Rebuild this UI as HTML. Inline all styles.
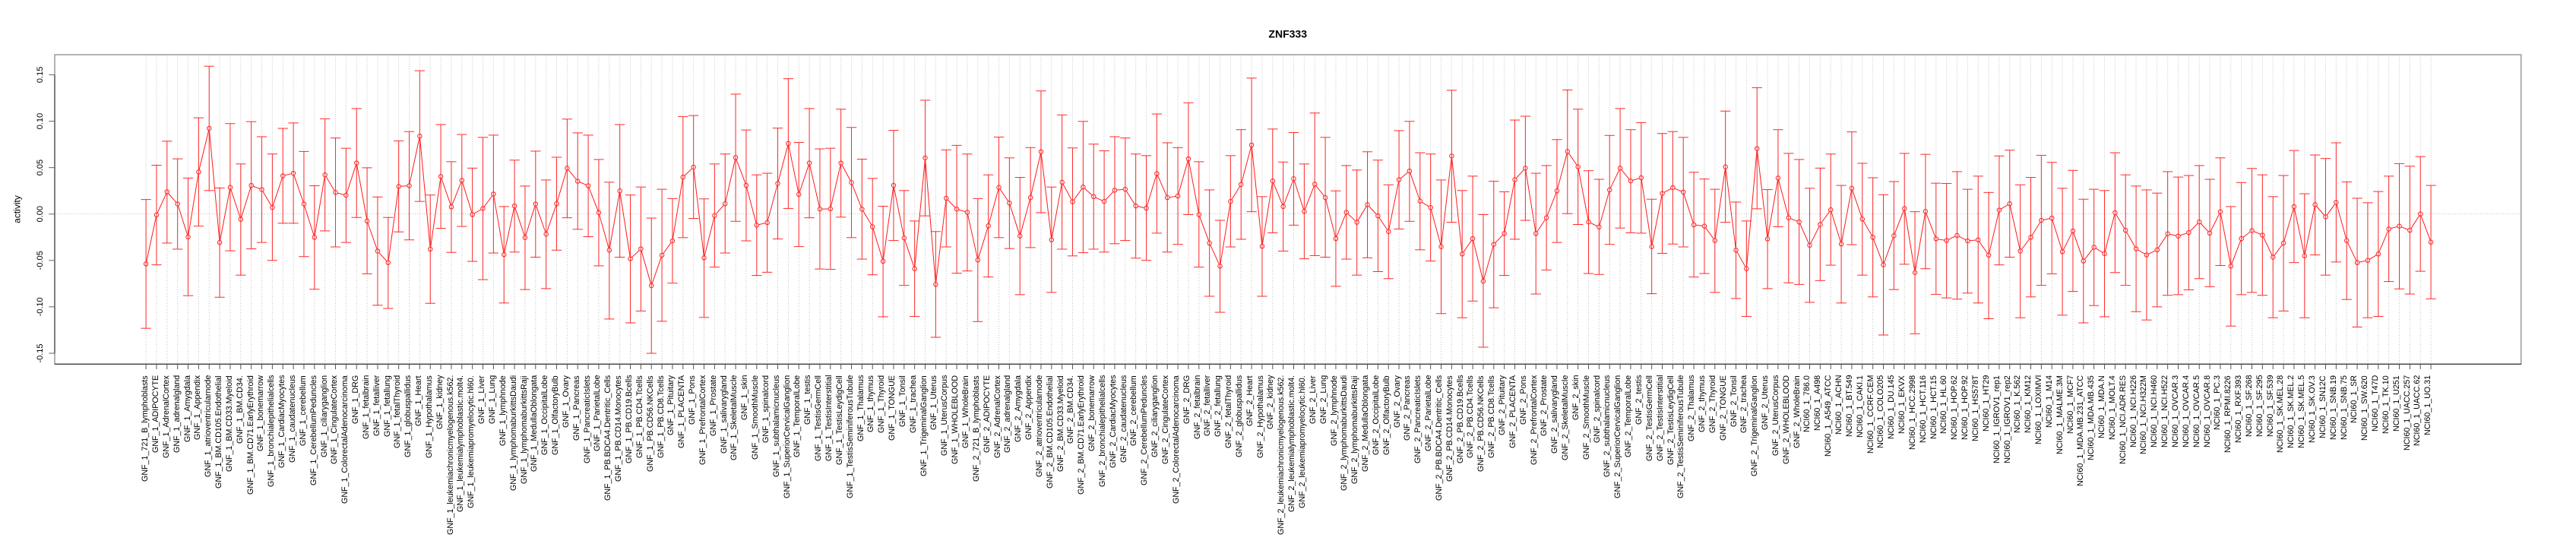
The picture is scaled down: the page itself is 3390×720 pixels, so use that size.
<!DOCTYPE html>
<html><head><meta charset="utf-8">
<style>
html,body{margin:0;padding:0;background:#fff;width:3390px;height:720px;overflow:hidden;position:relative}
svg{position:absolute;left:0;top:0}
#xl{position:absolute;left:185.17px;top:493.5px;display:flex;font-family:"Liberation Sans",sans-serif;font-size:10.7px;color:#000}
#xl div{flex:none;width:13.857px;height:220px;writing-mode:vertical-lr;transform:rotate(180deg);text-align:end;line-height:13.857px;white-space:nowrap}
</style></head><body>
<svg width="3390" height="720" viewBox="0 0 3390 720" font-family="Liberation Sans, sans-serif">
<defs>
<pattern id="hp" x="0" y="72" width="8" height="3" patternUnits="userSpaceOnUse"><rect width="8" height="1" fill="#fff"/></pattern>
<mask id="dm" maskUnits="userSpaceOnUse" x="0" y="0" width="3390" height="720"><rect x="0" y="72" width="3390" height="408" fill="url(#hp)"/></mask>
<marker id="k" markerUnits="userSpaceOnUse" markerWidth="2" markerHeight="20" overflow="visible"><path d="M-.48 0H.48" stroke="#ff2a2a" stroke-width="2.372" fill="none"/></marker>
<marker id="c" markerUnits="userSpaceOnUse" markerWidth="2" markerHeight="20" overflow="visible"><ellipse rx=".231" ry="7.59" fill="#ff2020"/><ellipse rx=".159" ry="5.22" fill="#fff"/></marker>
</defs>
<rect width="3390" height="720" fill="#fff"/>
<line x1="191.6" y1="275.65" x2="3212" y2="275.65" stroke="#c4c4c4" stroke-width="407.3" stroke-dasharray="1 12.857" mask="url(#dm)"/>
<line x1="72" y1="281.5" x2="3318" y2="281.5" stroke="#c4c4c4" stroke-dasharray="1 2"/>
<rect x="72" y="72" width="3245.7" height="407.3" fill="none" stroke="#9a9a9a" stroke-width="1.5"/>
<line x1="72" y1="98.4" x2="72" y2="465" stroke="#555" stroke-width="1.3"/>
<line x1="72" y1="479.3" x2="3318" y2="479.3" stroke="#444" stroke-width="1.3"/>
<line x1="191.6" y1="482.65" x2="3212" y2="482.65" stroke="#555" stroke-width="6.7" stroke-dasharray="1 12.857"/>
<path d="M64.3 98.4H72M64.3 159.5H72M64.3 220.6H72M64.3 281.7H72M64.3 342.8H72M64.3 403.9H72M64.3 465H72" stroke="#666" stroke-width="1"/>
<g font-size="11" text-anchor="middle" fill="#000">
<text transform="translate(56,465) rotate(-90)">-0.15</text>
<text transform="translate(56,403.9) rotate(-90)">-0.10</text>
<text transform="translate(56,342.8) rotate(-90)">-0.05</text>
<text transform="translate(56,281.7) rotate(-90)">0.00</text>
<text transform="translate(56,220.6) rotate(-90)">0.05</text>
<text transform="translate(56,159.5) rotate(-90)">0.10</text>
<text transform="translate(56,98.4) rotate(-90)">0.15</text>
</g>
<text transform="translate(26.5,275.5) rotate(-90)" font-size="12" text-anchor="middle">activity</text>
<text x="1694.7" y="49.3" font-size="14" font-weight="bold" text-anchor="middle">ZNF333</text>
<g transform="translate(192.1,60.2) scale(13.857,0.4217)">
<path fill="none" stroke="#ff1a1a" stroke-width="1" vector-effect="non-scaling-stroke" d="M0 681L1 528 2 456 3 494 4 597 5 394 6 258 7 614 8 442 9 542 10 436 11 449 12 505 13 406 14 398 15 494 16 598 17 403 18 458 19 467 20 366 21 547 22 641 23 677 24 439 25 437 26 282 27 635 28 408 29 503 30 420 31 527 32 508 33 463 34 652 35 500 36 599 37 494 38 588 39 493 40 382 41 423 42 437 43 521 44 638 45 453 46 665 47 634 48 749 49 654 50 609 51 410 52 379 53 662 54 530 55 493 56 349 57 436 58 560 59 552 60 430 61 305 62 464 63 366 64 510 65 509 66 366 67 427 68 510 69 565 70 673 71 436 72 600 73 696 74 350 75 745 76 476 77 510 78 520 79 669 80 562 81 442 82 491 83 594 84 474 85 331 86 606 87 426 88 487 89 441 90 471 91 486 92 451 93 448 94 500 95 507 96 399 97 474 98 469 99 353 100 527 101 616 102 688 103 486 104 433 105 310 106 626 107 422 108 502 109 415 110 517 111 432 112 474 113 602 114 520 115 551 116 496 117 531 118 580 119 418 120 391 121 485 122 505 123 627 124 344 125 650 126 602 127 735 128 620 129 586 130 418 131 382 132 586 133 537 134 453 135 330 136 378 137 550 138 566 139 450 140 382 141 422 142 412 143 627 144 461 145 443 146 457 147 559 148 563 149 608 150 378 151 638 152 696 153 321 154 603 155 413 156 537 157 550 158 623 159 558 160 512 161 619 162 445 163 541 164 598 165 684 166 593 167 508 168 708 169 517 170 603 171 608 172 592 173 609 174 606 175 654 176 513 177 493 178 641 179 598 180 545 181 538 182 643 183 578 184 672 185 629 186 649 187 521 188 576 189 634 190 653 191 637 192 587 193 594 194 583 195 550 196 585 197 518 198 688 199 602 200 577 201 591 202 660 203 616 204 502 205 656 206 496 207 534 208 489 209 608 210 677 211 670 212 650 213 572 214 563 215 576 216 525 217 613"/>
<path fill="none" stroke="none" marker-start="url(#c)" marker-mid="url(#c)" marker-end="url(#c)" d="M0 681L1 528 2 456 3 494 4 597 5 394 6 258 7 614 8 442 9 542 10 436 11 449 12 505 13 406 14 398 15 494 16 598 17 403 18 458 19 467 20 366 21 547 22 641 23 677 24 439 25 437 26 282 27 635 28 408 29 503 30 420 31 527 32 508 33 463 34 652 35 500 36 599 37 494 38 588 39 493 40 382 41 423 42 437 43 521 44 638 45 453 46 665 47 634 48 749 49 654 50 609 51 410 52 379 53 662 54 530 55 493 56 349 57 436 58 560 59 552 60 430 61 305 62 464 63 366 64 510 65 509 66 366 67 427 68 510 69 565 70 673 71 436 72 600 73 696 74 350 75 745 76 476 77 510 78 520 79 669 80 562 81 442 82 491 83 594 84 474 85 331 86 606 87 426 88 487 89 441 90 471 91 486 92 451 93 448 94 500 95 507 96 399 97 474 98 469 99 353 100 527 101 616 102 688 103 486 104 433 105 310 106 626 107 422 108 502 109 415 110 517 111 432 112 474 113 602 114 520 115 551 116 496 117 531 118 580 119 418 120 391 121 485 122 505 123 627 124 344 125 650 126 602 127 735 128 620 129 586 130 418 131 382 132 586 133 537 134 453 135 330 136 378 137 550 138 566 139 450 140 382 141 422 142 412 143 627 144 461 145 443 146 457 147 559 148 563 149 608 150 378 151 638 152 696 153 321 154 603 155 413 156 537 157 550 158 623 159 558 160 512 161 619 162 445 163 541 164 598 165 684 166 593 167 508 168 708 169 517 170 603 171 608 172 592 173 609 174 606 175 654 176 513 177 493 178 641 179 598 180 545 181 538 182 643 183 578 184 672 185 629 186 649 187 521 188 576 189 634 190 653 191 637 192 587 193 594 194 583 195 550 196 585 197 518 198 688 199 602 200 577 201 591 202 660 203 616 204 502 205 656 206 496 207 534 208 489 209 608 210 677 211 670 212 650 213 572 214 563 215 576 216 525 217 613"/>
<path fill="none" stroke="#ff2a2a" stroke-width="0.0722" marker-start="url(#k)" marker-mid="url(#k)" marker-end="url(#k)" d="M0 480V882M1 373V684M2 298V616M3 353V635M4 413V780M5 225V563M6 64V452M7 444V785M8 243V640M9 369V716M10 237V634M11 284V614M12 338V670M13 258V554M14 241V554M15 330V658M16 437V760M17 228V578M18 288V628M19 320V614M20 196V536M21 381V712M22 472V810M23 536V820M24 297V581M25 268V606M26 78V486M27 466V804M28 246V570M29 362V645M30 277V564M31 382V673M32 286V730M33 279V647M34 502V803M35 357V644M36 438V761M37 329V660M38 419V758M39 348V638M40 229V537M41 272V573M42 279V596M43 355V687M44 426V853M45 246V660M46 466V865M47 441V828M48 538V960M49 448V860M50 477V741M51 221V599M52 218V539M53 478V848M54 369V691M55 338V647M56 151V548M57 263V609M58 403V717M59 398V707M60 257V603M61 103V508M62 302V627M63 196V537M64 322V697M65 320V698M66 198V535M67 255V599M68 354V666M69 414V715M70 501V846M71 264V608M72 452V748M73 547V845M74 170V531M75 580V910M76 325V628M77 311V710M78 338V703M79 477V861M80 403V722M81 285V599M82 350V633M83 411V777M84 318V630M85 141V521M86 441V770M87 216V635M88 319V656M89 236V646M90 307V635M91 328V644M92 284V618M93 288V608M94 338V663M95 343V670M96 213V585M97 303V644M98 318V620M99 178V527M100 362V691M101 450V782M102 545V832M103 343V628M104 262V604M105 101V518M106 471V782M107 260V584M108 363V641M109 271V560M110 369V665M111 210V655M112 286V660M113 453V751M114 374V666M115 388V716M116 331V662M117 357V705M118 434V727M119 265V572M120 236V548M121 334V637M122 338V672M123 419V836M124 139V551M125 452V849M126 407V797M127 527V941M128 423V818M129 456V717M130 232V604M131 220V545M132 398V775M133 374V700M134 293V614M135 138V524M136 198V558M137 390V711M138 417V714M139 280V620M140 196V569M141 262V584M142 240V585M143 479V774M144 274V648M145 268V619M146 286V628M147 395V722M148 416V711M149 448V770M150 204V551M151 488V789M152 547V845M153 131V509M154 449V758M155 262V565M156 336V740M157 355V745M158 445V801M159 382V733M160 338V685M161 436V803M162 269V621M163 367V716M164 412V784M165 465V903M166 424V761M167 336V682M168 518V899M169 339V696M170 429V776M171 430V787M172 393V791M173 448V772M174 407V803M175 458V852M176 344V684M177 326V660M178 434V849M179 411V784M180 342V748M181 364V712M182 445V841M183 389V767M184 479V865M185 448V811M186 452V846M187 334V708M188 403V748M189 438V830M190 450V856M191 460V815M192 393V779M193 410V777M194 405V762M195 374V727M196 417V752M197 350V686M198 502V875M199 427V777M200 383V770M201 403V779M202 471V849M203 405V828M204 327V677M205 462V849M206 341V653M207 352V716M208 303V675M209 425V792M210 476V878M211 490V849M212 455V845M213 407V736M214 368V759M215 376V775M216 346V704M217 436V790"/>
</g>
</svg>
<div id="xl">
<div>GNF_1_721_B_lymphoblasts</div><div>GNF_1_ADIPOCYTE</div><div>GNF_1_AdrenalCortex</div><div>GNF_1_adrenalgland</div><div>GNF_1_Amygdala</div><div>GNF_1_Appendix</div><div>GNF_1_atrioventricularnode</div><div>GNF_1_BM.CD105.Endothelial</div><div>GNF_1_BM.CD33.Myeloid</div><div>GNF_1_BM.CD34.</div>
<div>GNF_1_BM.CD71.EarlyErythroid</div><div>GNF_1_bonemarrow</div><div>GNF_1_bronchialepithelialcells</div><div>GNF_1_CardiacMyocytes</div><div>GNF_1_caudatenucleus</div><div>GNF_1_cerebellum</div><div>GNF_1_CerebellumPeduncles</div><div>GNF_1_ciliaryganglion</div><div>GNF_1_CingulateCortex</div><div>GNF_1_ColorectalAdenocarcinoma</div>
<div>GNF_1_DRG</div><div>GNF_1_fetalbrain</div><div>GNF_1_fetalliver</div><div>GNF_1_fetallung</div><div>GNF_1_fetalThyroid</div><div>GNF_1_globuspallidus</div><div>GNF_1_Heart</div><div>GNF_1_Hypothalamus</div><div>GNF_1_kidney</div><div>GNF_1_leukemiachronicmyelogenous.k562.</div>
<div>GNF_1_leukemialymphoblastic.molt4.</div><div>GNF_1_leukemiapromyelocytic.hl60.</div><div>GNF_1_Liver</div><div>GNF_1_Lung</div><div>GNF_1_lymphnode</div><div>GNF_1_lymphomaburkittsDaudi</div><div>GNF_1_lymphomaburkittsRaji</div><div>GNF_1_MedullaOblongata</div><div>GNF_1_OccipitalLobe</div><div>GNF_1_OlfactoryBulb</div>
<div>GNF_1_Ovary</div><div>GNF_1_Pancreas</div><div>GNF_1_PancreaticIslets</div><div>GNF_1_ParietalLobe</div><div>GNF_1_PB.BDCA4.Dentritic_Cells</div><div>GNF_1_PB.CD14.Monocytes</div><div>GNF_1_PB.CD19.Bcells</div><div>GNF_1_PB.CD4.Tcells</div><div>GNF_1_PB.CD56.NKCells</div><div>GNF_1_PB.CD8.Tcells</div>
<div>GNF_1_Pituitary</div><div>GNF_1_PLACENTA</div><div>GNF_1_Pons</div><div>GNF_1_PrefrontalCortex</div><div>GNF_1_Prostate</div><div>GNF_1_salivarygland</div><div>GNF_1_SkeletalMuscle</div><div>GNF_1_skin</div><div>GNF_1_SmoothMuscle</div><div>GNF_1_spinalcord</div>
<div>GNF_1_subthalamicnucleus</div><div>GNF_1_SuperiorCervicalGanglion</div><div>GNF_1_TemporalLobe</div><div>GNF_1_testis</div><div>GNF_1_TestisGermCell</div><div>GNF_1_TestisInterstitial</div><div>GNF_1_TestisLeydigCell</div><div>GNF_1_TestisSeminiferousTubule</div><div>GNF_1_Thalamus</div><div>GNF_1_thymus</div>
<div>GNF_1_Thyroid</div><div>GNF_1_TONGUE</div><div>GNF_1_Tonsil</div><div>GNF_1_trachea</div><div>GNF_1_TrigeminalGanglion</div><div>GNF_1_Uterus</div><div>GNF_1_UterusCorpus</div><div>GNF_1_WHOLEBLOOD</div><div>GNF_1_WholeBrain</div><div>GNF_2_721_B_lymphoblasts</div>
<div>GNF_2_ADIPOCYTE</div><div>GNF_2_AdrenalCortex</div><div>GNF_2_adrenalgland</div><div>GNF_2_Amygdala</div><div>GNF_2_Appendix</div><div>GNF_2_atrioventricularnode</div><div>GNF_2_BM.CD105.Endothelial</div><div>GNF_2_BM.CD33.Myeloid</div><div>GNF_2_BM.CD34.</div><div>GNF_2_BM.CD71.EarlyErythroid</div>
<div>GNF_2_bonemarrow</div><div>GNF_2_bronchialepithelialcells</div><div>GNF_2_CardiacMyocytes</div><div>GNF_2_caudatenucleus</div><div>GNF_2_cerebellum</div><div>GNF_2_CerebellumPeduncles</div><div>GNF_2_ciliaryganglion</div><div>GNF_2_CingulateCortex</div><div>GNF_2_ColorectalAdenocarcinoma</div><div>GNF_2_DRG</div>
<div>GNF_2_fetalbrain</div><div>GNF_2_fetalliver</div><div>GNF_2_fetallung</div><div>GNF_2_fetalThyroid</div><div>GNF_2_globuspallidus</div><div>GNF_2_Heart</div><div>GNF_2_Hypothalamus</div><div>GNF_2_kidney</div><div>GNF_2_leukemiachronicmyelogenous.k562.</div><div>GNF_2_leukemialymphoblastic.molt4.</div>
<div>GNF_2_leukemiapromyelocytic.hl60.</div><div>GNF_2_Liver</div><div>GNF_2_Lung</div><div>GNF_2_lymphnode</div><div>GNF_2_lymphomaburkittsDaudi</div><div>GNF_2_lymphomaburkittsRaji</div><div>GNF_2_MedullaOblongata</div><div>GNF_2_OccipitalLobe</div><div>GNF_2_OlfactoryBulb</div><div>GNF_2_Ovary</div>
<div>GNF_2_Pancreas</div><div>GNF_2_PancreaticIslets</div><div>GNF_2_ParietalLobe</div><div>GNF_2_PB.BDCA4.Dentritic_Cells</div><div>GNF_2_PB.CD14.Monocytes</div><div>GNF_2_PB.CD19.Bcells</div><div>GNF_2_PB.CD4.Tcells</div><div>GNF_2_PB.CD56.NKCells</div><div>GNF_2_PB.CD8.Tcells</div><div>GNF_2_Pituitary</div>
<div>GNF_2_PLACENTA</div><div>GNF_2_Pons</div><div>GNF_2_PrefrontalCortex</div><div>GNF_2_Prostate</div><div>GNF_2_salivarygland</div><div>GNF_2_SkeletalMuscle</div><div>GNF_2_skin</div><div>GNF_2_SmoothMuscle</div><div>GNF_2_spinalcord</div><div>GNF_2_subthalamicnucleus</div>
<div>GNF_2_SuperiorCervicalGanglion</div><div>GNF_2_TemporalLobe</div><div>GNF_2_testis</div><div>GNF_2_TestisGermCell</div><div>GNF_2_TestisInterstitial</div><div>GNF_2_TestisLeydigCell</div><div>GNF_2_TestisSeminiferousTubule</div><div>GNF_2_Thalamus</div><div>GNF_2_thymus</div><div>GNF_2_Thyroid</div>
<div>GNF_2_TONGUE</div><div>GNF_2_Tonsil</div><div>GNF_2_trachea</div><div>GNF_2_TrigeminalGanglion</div><div>GNF_2_Uterus</div><div>GNF_2_UterusCorpus</div><div>GNF_2_WHOLEBLOOD</div><div>GNF_2_WholeBrain</div><div>NCI60_1_786.0</div><div>NCI60_1_A498</div>
<div>NCI60_1_A549_ATCC</div><div>NCI60_1_ACHN</div><div>NCI60_1_BT.549</div><div>NCI60_1_CAKI.1</div><div>NCI60_1_CCRF.CEM</div><div>NCI60_1_COLO205</div><div>NCI60_1_DU.145</div><div>NCI60_1_EKVX</div><div>NCI60_1_HCC.2998</div><div>NCI60_1_HCT.116</div>
<div>NCI60_1_HCT.15</div><div>NCI60_1_HL.60</div><div>NCI60_1_HOP.62</div><div>NCI60_1_HOP.92</div><div>NCI60_1_HS578T</div><div>NCI60_1_HT29</div><div>NCI60_1_IGROV1_rep1</div><div>NCI60_1_IGROV1_rep2</div><div>NCI60_1_K.562</div><div>NCI60_1_KM12</div>
<div>NCI60_1_LOXIMVI</div><div>NCI60_1_M14</div><div>NCI60_1_MALME.3M</div><div>NCI60_1_MCF7</div><div>NCI60_1_MDA.MB.231_ATCC</div><div>NCI60_1_MDA.MB.435</div><div>NCI60_1_MDA.N</div><div>NCI60_1_MOLT.4</div><div>NCI60_1_NCI.ADR.RES</div><div>NCI60_1_NCI.H226</div>
<div>NCI60_1_NCI.H322M</div><div>NCI60_1_NCI.H460</div><div>NCI60_1_NCI.H522</div><div>NCI60_1_OVCAR.3</div><div>NCI60_1_OVCAR.4</div><div>NCI60_1_OVCAR.5</div><div>NCI60_1_OVCAR.8</div><div>NCI60_1_PC.3</div><div>NCI60_1_RPMI.8226</div><div>NCI60_1_RXF.393</div>
<div>NCI60_1_SF.268</div><div>NCI60_1_SF.295</div><div>NCI60_1_SF.539</div><div>NCI60_1_SK.MEL.28</div><div>NCI60_1_SK.MEL.2</div><div>NCI60_1_SK.MEL.5</div><div>NCI60_1_SK.OV.3</div><div>NCI60_1_SN12C</div><div>NCI60_1_SNB.19</div><div>NCI60_1_SNB.75</div>
<div>NCI60_1_SR</div><div>NCI60_1_SW.620</div><div>NCI60_1_T47D</div><div>NCI60_1_TK.10</div><div>NCI60_1_U251</div><div>NCI60_1_UACC.257</div><div>NCI60_1_UACC.62</div><div>NCI60_1_UO.31</div>
</div>
</body></html>
